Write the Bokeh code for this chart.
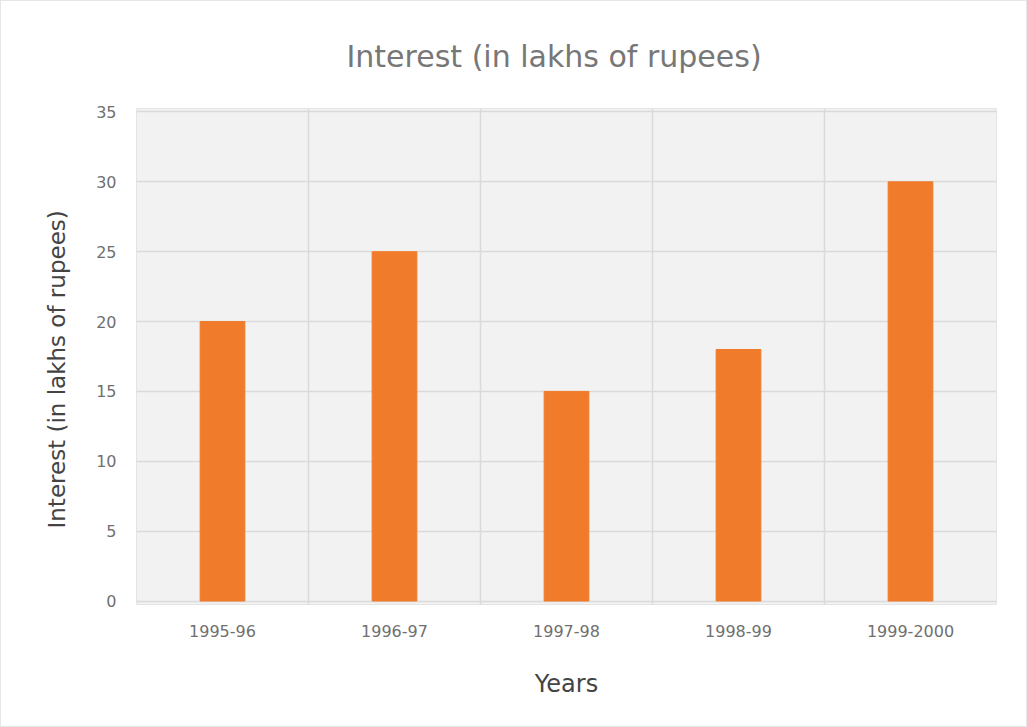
from bokeh.plotting import figure
from bokeh.models import FactorRange, Range1d, Span, FixedTicker, Title
from bokeh.embed import file_html
from bokeh.resources import INLINE

years = ["1995-96", "1996-97", "1997-98", "1998-99", "1999-2000"]
interest = [20, 25, 15, 18, 30]
y_ticks = [0, 5, 10, 15, 20, 25, 30, 35]

title_text = "Interest (in lakhs of rupees)"
x_label = "Years"
y_label = "Interest (in lakhs of rupees)"

FONT = "DejaVu Sans"

p = figure(
    x_range=FactorRange(*years, range_padding=0),
    y_range=Range1d(-0.25, 35.25),
    width=1027, height=727,
    output_backend="svg", toolbar_location=None,
    min_border_left=135, min_border_right=32,
    min_border_top=107, min_border_bottom=124,
    background_fill_color="#f2f2f2",
    border_fill_color="white",
    outline_line_color="#e4e4e4",
)

p.title.text = title_text
p.title.align = "left"
p.title.offset = 210
p.title.text_font = FONT
p.title.text_font_size = "30px"
p.title.text_font_style = "normal"
p.title.text_color = "#777777"
p.title.standoff = 70

p.vbar(x=years, top=interest, width=0.26, color="#f07b2b")

# grid: horizontal at y ticks, vertical between year categories
p.xgrid.grid_line_color = None
p.ygrid.grid_line_color = "#dadada"
p.ygrid.grid_line_width = 1.5
for b in range(1, len(years)):
    p.add_layout(Span(location=b, dimension="height",
                      line_color="#dadada", line_width=1.5))

p.yaxis.ticker = FixedTicker(ticks=y_ticks)
for ax in (p.xaxis[0], p.yaxis[0]):
    ax.axis_line_color = None
    ax.major_tick_line_color = None
    ax.minor_tick_line_color = None
    ax.major_label_text_font = FONT
    ax.major_label_text_font_size = "16px"
    ax.major_label_text_color = "#707070"

p.xaxis.axis_label = x_label
p.xaxis.axis_label_text_font = FONT
p.xaxis.axis_label_text_font_style = "normal"
p.xaxis.axis_label_text_color = "#444444"
p.xaxis.axis_label_text_font_size = "24px"
p.xaxis.major_label_standoff = 14
p.xaxis.axis_label_standoff = 30
p.yaxis.major_label_standoff = 14

# vertical axis title, starting a little above the frame's bottom
p.add_layout(Title(text=y_label, align="left", offset=76,
                   text_font=FONT, text_font_size="23px",
                   text_font_style="normal", text_color="#444444",
                   standoff=48), "left")

p.styles = {"border": "1px solid #e6e6e6"}

open("out.html", "w").write(file_html(p, INLINE))
